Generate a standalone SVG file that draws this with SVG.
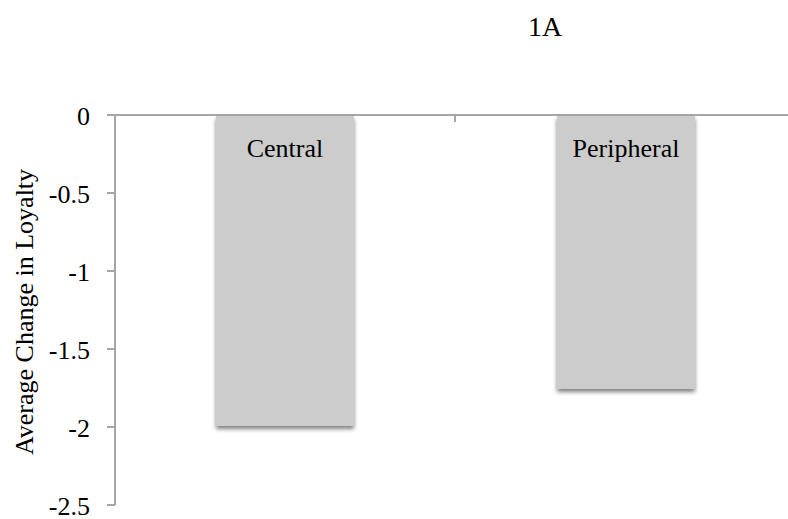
<svg xmlns="http://www.w3.org/2000/svg" width="788" height="519" viewBox="0 0 788 519">
<style>
text{font-family:"Liberation Serif","Times New Roman",serif;fill:#000}
.tick{font-size:26px;text-anchor:end}
.lbl{font-size:26px;text-anchor:middle}
.ax{stroke:#a6a6a6;stroke-width:2;fill:none}
.bar{fill:#cccccc}
</style>
<defs>
<filter id="sh" x="-10%" y="-10%" width="120%" height="120%">
<feGaussianBlur in="SourceAlpha" stdDeviation="2"/>
<feOffset dx="0" dy="3" result="b"/>
<feComponentTransfer in="b" result="c"><feFuncA type="linear" slope="0.5"/></feComponentTransfer>
<feMerge><feMergeNode in="c"/><feMergeNode in="SourceGraphic"/></feMerge>
</filter>
</defs>
<rect width="788" height="519" fill="#fff"/>
<text x="545" y="36" style="font-size:28px;text-anchor:middle">1A</text>
<g id="axes">
<path class="ax" d="M107 115H788M115 115V505M107 193H115M107 271H115M107 349H115M107 427H115M107 505H115M455 115V122"/>
</g>
<g id="ticks">
<text class="tick" x="90" y="124.5">0</text>
<text class="tick" x="90" y="202.5">-0.5</text>
<text class="tick" x="90" y="280.5">-1</text>
<text class="tick" x="90" y="358.5">-1.5</text>
<text class="tick" x="90" y="436.5">-2</text>
<text class="tick" x="90" y="514.5">-2.5</text>
</g>
<text transform="translate(33 312) rotate(-90)" style="font-size:26px;text-anchor:middle">Average Change in Loyalty</text>
<g id="central">
<rect class="bar" x="216" y="116" width="138" height="310" filter="url(#sh)"/>
<text class="lbl" x="285" y="157">Central</text>
</g>
<g id="peripheral">
<rect class="bar" x="557" y="116" width="138" height="273" filter="url(#sh)"/>
<text class="lbl" x="626" y="157">Peripheral</text>
</g>
</svg>
